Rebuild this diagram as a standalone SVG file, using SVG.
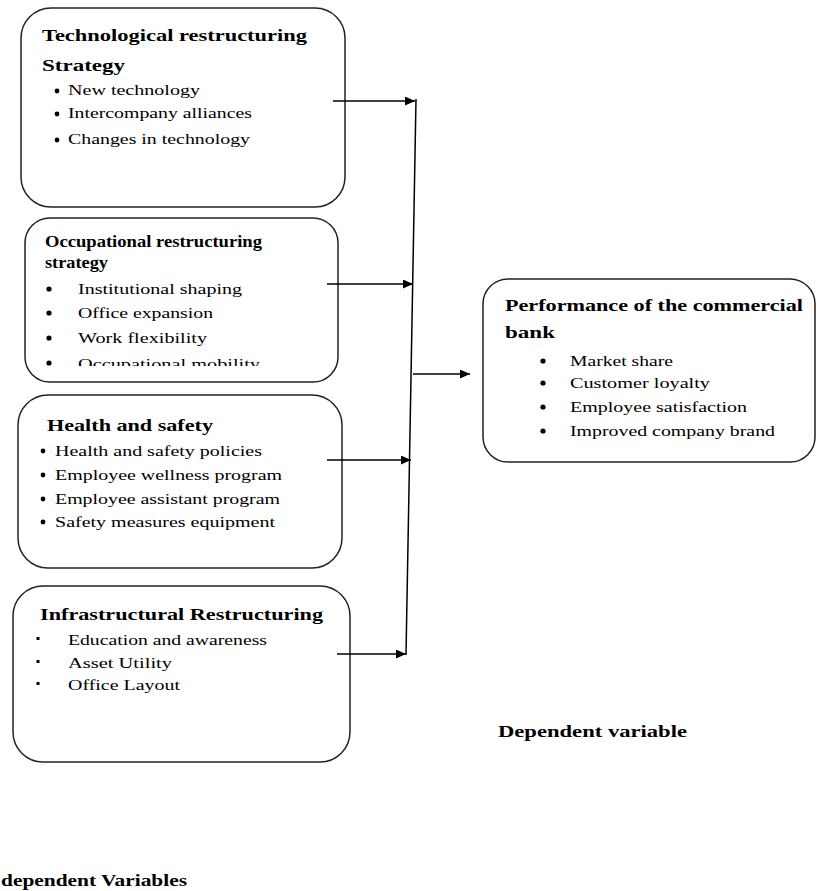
<svg xmlns="http://www.w3.org/2000/svg" width="817" height="891" viewBox="0 0 817 891">
<style>
.box{fill:#fff;stroke:#222;stroke-width:1.5}
.t{font-family:"Liberation Serif","Times New Roman",serif;font-weight:bold;font-size:17px;fill:#000}
.b{font-family:"Liberation Serif","Times New Roman",serif;font-size:15px;fill:#000}
.dot{fill:#000}
.con{stroke:#000;stroke-width:1.5;fill:none}
</style>
<defs>
<marker id="ah" markerUnits="userSpaceOnUse" markerWidth="11" markerHeight="9" refX="10" refY="4.5" orient="auto">
<path d="M0,0 L10,4.5 L0,9 z" fill="#000"/>
</marker>
<clipPath id="clip2"><rect x="20" y="215" width="330" height="151"/></clipPath>
</defs>

<g id="node-technological">
<rect class="box" x="21" y="8" width="324" height="199" rx="30"/>
<text class="t" x="42" y="41" textLength="265" lengthAdjust="spacingAndGlyphs">Technological restructuring</text>
<text class="t" x="42" y="71" textLength="83" lengthAdjust="spacingAndGlyphs">Strategy</text>
<circle class="dot" cx="57" cy="91" r="2.4"/>
<text class="b" x="68" y="95" textLength="132" lengthAdjust="spacingAndGlyphs">New technology</text>
<circle class="dot" cx="57" cy="114" r="2.4"/>
<text class="b" x="68" y="118" textLength="184" lengthAdjust="spacingAndGlyphs">Intercompany alliances</text>
<circle class="dot" cx="57" cy="140" r="2.4"/>
<text class="b" x="68" y="144" textLength="182" lengthAdjust="spacingAndGlyphs">Changes in technology</text>
</g>

<g id="node-occupational">
<rect class="box" x="25" y="218" width="313" height="164" rx="25"/>
<text class="t" x="45" y="247" font-size="15" textLength="217" lengthAdjust="spacingAndGlyphs">Occupational restructuring</text>
<text class="t" x="45" y="268" font-size="15" textLength="63" lengthAdjust="spacingAndGlyphs">strategy</text>
<circle class="dot" cx="49" cy="289" r="2.6"/>
<text class="b" x="78" y="294" textLength="164" lengthAdjust="spacingAndGlyphs">Institutional shaping</text>
<circle class="dot" cx="49" cy="313" r="2.6"/>
<text class="b" x="78" y="318" textLength="135" lengthAdjust="spacingAndGlyphs">Office expansion</text>
<circle class="dot" cx="49" cy="338" r="2.6"/>
<text class="b" x="78" y="343" textLength="129" lengthAdjust="spacingAndGlyphs">Work flexibility</text>
<g clip-path="url(#clip2)">
<circle class="dot" cx="49" cy="363" r="2.6"/>
<text class="b" x="78" y="369" textLength="182" lengthAdjust="spacingAndGlyphs">Occupational mobility</text>
</g>
</g>

<g id="node-health">
<rect class="box" x="18" y="395" width="324" height="173" rx="30"/>
<text class="t" x="47" y="431" textLength="166" lengthAdjust="spacingAndGlyphs">Health and safety</text>
<circle class="dot" cx="43" cy="451" r="2.4"/>
<text class="b" x="55" y="456" textLength="207" lengthAdjust="spacingAndGlyphs">Health and safety policies</text>
<circle class="dot" cx="43" cy="475" r="2.4"/>
<text class="b" x="55" y="480" textLength="227" lengthAdjust="spacingAndGlyphs">Employee wellness program</text>
<circle class="dot" cx="43" cy="499" r="2.4"/>
<text class="b" x="55" y="504" textLength="225" lengthAdjust="spacingAndGlyphs">Employee assistant program</text>
<circle class="dot" cx="43" cy="522" r="2.4"/>
<text class="b" x="55" y="527" textLength="220" lengthAdjust="spacingAndGlyphs">Safety measures equipment</text>
</g>

<g id="node-infrastructural">
<rect class="box" x="13" y="586" width="337" height="176" rx="30"/>
<text class="t" x="40" y="620" textLength="283" lengthAdjust="spacingAndGlyphs">Infrastructural Restructuring</text>
<rect class="dot" x="36.5" y="637" width="3" height="3"/>
<text class="b" x="68" y="645" textLength="199" lengthAdjust="spacingAndGlyphs">Education and awareness</text>
<rect class="dot" x="36.5" y="660" width="3" height="3"/>
<text class="b" x="68" y="668" textLength="104" lengthAdjust="spacingAndGlyphs">Asset Utility</text>
<rect class="dot" x="36.5" y="682" width="3" height="3"/>
<text class="b" x="68" y="690" textLength="112" lengthAdjust="spacingAndGlyphs">Office Layout</text>
</g>

<g id="node-performance">
<rect class="box" x="483" y="279" width="332" height="183" rx="25"/>
<text class="t" x="505" y="311" textLength="298" lengthAdjust="spacingAndGlyphs">Performance of the commercial</text>
<text class="t" x="505" y="338" textLength="50" lengthAdjust="spacingAndGlyphs">bank</text>
<circle class="dot" cx="543" cy="361" r="2.6"/>
<text class="b" x="570" y="366" textLength="103" lengthAdjust="spacingAndGlyphs">Market share</text>
<circle class="dot" cx="543" cy="383" r="2.6"/>
<text class="b" x="570" y="388" textLength="140" lengthAdjust="spacingAndGlyphs">Customer loyalty</text>
<circle class="dot" cx="543" cy="407" r="2.6"/>
<text class="b" x="570" y="412" textLength="177" lengthAdjust="spacingAndGlyphs">Employee satisfaction</text>
<circle class="dot" cx="543" cy="431" r="2.6"/>
<text class="b" x="570" y="436" textLength="205" lengthAdjust="spacingAndGlyphs">Improved company brand</text>
</g>

<g id="connectors">
<line class="con" x1="416" y1="99" x2="406" y2="655"/>
<line class="con" x1="333" y1="101" x2="415" y2="101" marker-end="url(#ah)"/>
<line class="con" x1="327" y1="284" x2="413" y2="284" marker-end="url(#ah)"/>
<line class="con" x1="327" y1="460" x2="411" y2="460" marker-end="url(#ah)"/>
<line class="con" x1="337" y1="654" x2="406" y2="654" marker-end="url(#ah)"/>
<line class="con" x1="413" y1="374" x2="470" y2="374" marker-end="url(#ah)"/>
</g>

<g id="labels">
<text class="t" x="498" y="737" textLength="189" lengthAdjust="spacingAndGlyphs">Dependent variable</text>
<text class="t" x="1" y="886" textLength="186" lengthAdjust="spacingAndGlyphs">dependent Variables</text>
</g>
</svg>
